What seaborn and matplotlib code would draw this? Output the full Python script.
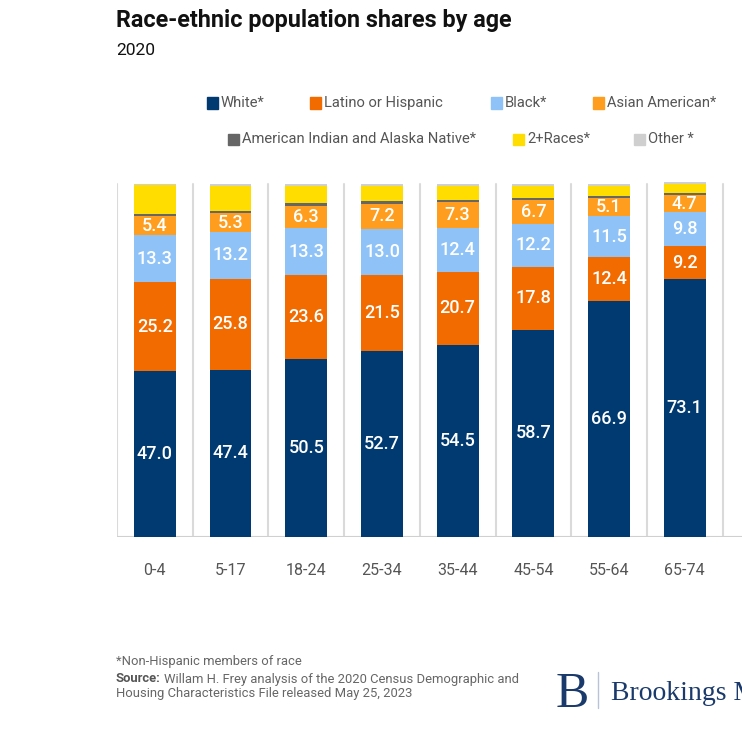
import matplotlib
matplotlib.use("Agg")
import matplotlib.pyplot as plt
import seaborn as sns
import pandas as pd
from matplotlib.patches import Rectangle
from matplotlib.lines import Line2D

ages = ["0-4", "5-17", "18-24", "25-34", "35-44", "45-54", "55-64", "65-74"]
white = [47.0, 47.4, 50.5, 52.7, 54.5, 58.7, 66.9, 73.1]
latino = [25.2, 25.8, 23.6, 21.5, 20.7, 17.8, 12.4, 9.2]
black = [13.3, 13.2, 13.3, 13.0, 12.4, 12.2, 11.5, 9.8]
asian = [5.4, 5.3, 6.3, 7.2, 7.3, 6.7, 5.1, 4.7]
aian = [0.6, 0.7, 0.9, 0.8, 0.7, 0.7, 0.7, 0.6]
multi = [8.1, 7.1, 4.9, 4.3, 3.9, 3.4, 2.8, 2.7]
other = [0.4, 0.5, 0.5, 0.5, 0.5, 0.5, 0.6, 0.6]

series_names = ["White*", "Latino or Hispanic", "Black*", "Asian American*",
                "American Indian and Alaska Native*", "2+Races*", "Other *"]
series_vals = [white, latino, black, asian, aian, multi, other]
colors = ["#003a70", "#f26b00", "#8fc3f8", "#ff9d1e", "#666666", "#ffdd00", "#cfcfcf"]
labeled = [True, True, True, True, False, False, False]

sns.set_theme(style="white")
plt.rcParams["font.family"] = ["Roboto", "DejaVu Sans"]

W, H = 742, 731
fig = plt.figure(figsize=(W / 100, H / 100), dpi=100)

# axes placement in pixels
left_px, right_px = 117, 742
base_px, top100_px = 537, 184
ymax = 101.5
px_per_unit = (base_px - top100_px) / 100.0
ax_h = ymax * px_per_unit
ax = fig.add_axes([left_px / W, (H - base_px) / H, (right_px - left_px) / W, ax_h / H])

n = len(ages)
cat_w = 75.7
xmax = -0.5 + (right_px - left_px) / cat_w

# vertical gridlines between categories
for i in range(n + 1):
    ax.plot([i - 0.5, i - 0.5], [0, 100], color="#dadada", lw=1.5, zorder=0)

df = pd.DataFrame({"age": ages})
bottoms = [0.0] * n
for name, vals, col, lab in zip(series_names, series_vals, colors, labeled):
    df["v"] = vals
    sns.barplot(data=df, x="age", y="v", color=col, width=0.553, bottom=bottoms,
                saturation=1, ax=ax, zorder=2, linewidth=0, errorbar=None)
    if lab:
        for i, v in enumerate(vals):
            ax.text(i, bottoms[i] + v / 2, f"{v:.1f}", ha="center", va="center",
                    color="white", fontsize=13, fontweight="medium", zorder=3)
    bottoms = [b + v for b, v in zip(bottoms, vals)]

ax.axhline(0, color="#d0d0d0", lw=1.5, zorder=1)
ax.set_xlim(-0.5, xmax)
ax.set_ylim(0, ymax)
ax.set_xlabel("")
ax.set_ylabel("")
ax.set_yticks([])
ax.tick_params(axis="x", length=0, pad=19, labelsize=11.5, labelcolor="#555555")
for s in ax.spines.values():
    s.set_visible(False)

# Title and subtitle
fig.text(116 / W, 1 - 27 / H, "Race-ethnic population shares by age", fontsize=16.8,
         fontweight="bold", color="#111111", va="baseline", ha="left")
fig.text(116 / W, 1 - 55 / H, "2020", fontsize=12.5, color="#111111",
         va="baseline", ha="left")

# Legend (manual layout)
legend_pos = [(207, 103), (310, 103), (491, 103), (593, 103),
              (228, 139), (513, 139), (634, 139)]
for (x, y), name, col in zip(legend_pos, series_names, colors):
    fig.patches.append(Rectangle(((x) / W, 1 - (y + 5.5) / H), 11 / W, 11 / H,
                                 transform=fig.transFigure, color=col))
    fig.text((x + 14) / W, 1 - y / H, name, fontsize=10.6, color="#555555",
             va="center", ha="left")

# Footer
fs = 9.35
fig.text(116 / W, 1 - 662 / H, "*Non-Hispanic members of race", fontsize=fs,
         color="#666666", va="center", ha="left")
t = fig.text(116 / W, 1 - 679 / H, "Source:", fontsize=fs, color="#555555",
             fontweight="bold", va="center", ha="left")
fig.canvas.draw()
bb = t.get_window_extent()
fig.text((bb.x1 + 3) / W, 1 - 679 / H,
         "Willam H. Frey analysis of the 2020 Census Demographic and",
         fontsize=fs, color="#666666", va="center", ha="left")
fig.text(116 / W, 1 - 694 / H,
         "Housing Characteristics File released May 25, 2023",
         fontsize=fs, color="#666666", va="center", ha="left")

# Brookings logo text
fig.text(556 / W, 1 - 707 / H, "B", family=["Liberation Serif", "DejaVu Serif"],
         fontsize=36, color="#1a3a6b", va="baseline", ha="left")
fig.add_artist(Line2D([598 / W, 598 / W], [1 - 708 / H, 1 - 672 / H],
                      transform=fig.transFigure, color="#b8c4d6", lw=1))
fig.text(611 / W, 1 - 700 / H, "Brookings Metro", family=["Liberation Serif", "DejaVu Serif"],
         fontsize=20, color="#1a3a6b", va="baseline", ha="left")

fig.savefig("out.png", dpi=100)
